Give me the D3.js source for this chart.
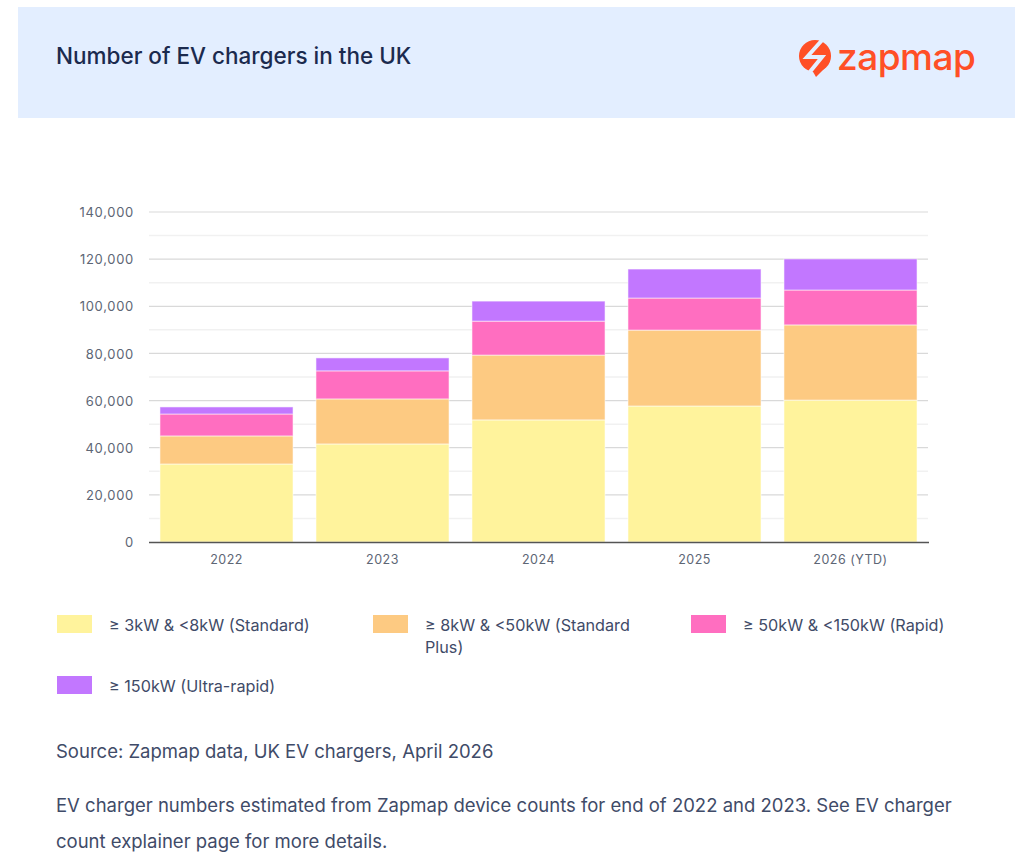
<!DOCTYPE html>
<html>
<head>
<meta charset="utf-8">
<script src="https://cdn.jsdelivr.net/npm/d3@7"></script>
<style>
    html, body { margin: 0; padding: 0; background: #fff; overflow: hidden; }
    svg { display: block; }
    .body-text { font-family: Inter, sans-serif; fill: #3f4b68; }
    .tick text { font-family: Inter, sans-serif; font-size: 13px; fill: #5d6675; }
</style>
</head>
<body>
<div id="chart"></div>
<script>
const years = ['2022', '2023', '2024', '2025', '2026 (YTD)'];
const standard = [33100, 41600, 51800, 57700, 60200];
const standardPlus = [11900, 19100, 27500, 32200, 31900];
const rapid = [9300, 11900, 14400, 13600, 14800];
const ultraRapid = [3000, 5500, 8500, 12300, 13200];
const seriesKeys = ['standard', 'standardPlus', 'rapid', 'ultraRapid'];
const seriesColors = ['#fff39c', '#fdca82', '#ff6ec0', '#c277ff'];
const majorTicks = [0, 20000, 40000, 60000, 80000, 100000, 120000, 140000];
const minorTicks = [10000, 30000, 50000, 70000, 90000, 110000, 130000];
const legendLabels = [
    ['≥ 3kW & <8kW (Standard)'],
    ['≥ 8kW & <50kW (Standard', 'Plus)'],
    ['≥ 50kW & <150kW (Rapid)'],
    ['≥ 150kW (Ultra-rapid)']
];

const rows = years.map((year, i) => ({
    year,
    standard: standard[i],
    standardPlus: standardPlus[i],
    rapid: rapid[i],
    ultraRapid: ultraRapid[i]
}));

const svg = d3.select('#chart').append('svg')
    .attr('width', 1015)
    .attr('height', 853);

// header band
svg.append('rect')
    .attr('x', 18).attr('y', 7)
    .attr('width', 997).attr('height', 111)
    .attr('fill', '#e3eeff');

svg.append('text')
    .attr('x', 56).attr('y', 64)
    .attr('font-family', 'Inter, sans-serif')
    .attr('font-size', 22.5)
    .attr('font-weight', 500)
    .attr('fill', '#1b2a4e')
    .text('Number of EV chargers in the UK');

// logo
const logo = svg.append('g').attr('transform', 'translate(815, 56)');
logo.append('circle')
    .attr('r', 16)
    .attr('fill', '#ff4f26');
logo.append('path')
    .attr('fill', '#ff4f26')
    .attr('d', 'M-3,14 L10,12 L1,21 Z');
logo.append('path')
    .attr('fill', 'none')
    .attr('stroke', '#e3eeff')
    .attr('stroke-width', 4)
    .attr('d', 'M9,-18 L-8,1 L7,1 L-6,17');
logo.append('text')
    .attr('x', 22).attr('y', 14)
    .attr('font-family', 'Inter, sans-serif')
    .attr('font-size', 37)
    .attr('font-weight', 500)
    .attr('letter-spacing', -0.5)
    .attr('fill', '#ff4f26')
    .text('zapmap');

const margin = {top: 212, left: 149};
const width = 779;
const height = 330;

const xScale = d3.scaleBand()
    .domain(years)
    .range([-0.5, 779.5])
    .paddingInner(0.147)
    .paddingOuter(0.0735);
const yScale = d3.scaleLinear()
    .domain([0, 140000])
    .range([height, 0]);

const chart = svg.append('g')
    .attr('transform', `translate(${margin.left}, ${margin.top})`);

chart.append('g').selectAll('line')
    .data(minorTicks)
    .join('line')
    .attr('x1', 0).attr('x2', width)
    .attr('y1', d => yScale(d)).attr('y2', d => yScale(d))
    .attr('stroke', '#f1f1f1')
    .attr('stroke-width', 1.5);

const yAxis = d3.axisLeft(yScale)
    .tickValues(majorTicks)
    .tickFormat(d3.format(','))
    .tickSize(0)
    .tickPadding(15);
const yAxisGroup = chart.append('g').call(yAxis);
yAxisGroup.select('.domain').remove();
yAxisGroup.selectAll('text')
    .attr('dy', '0.36em')
    .attr('letter-spacing', 0.7);

chart.append('g').selectAll('line')
    .data(majorTicks.slice(1))
    .join('line')
    .attr('x1', 0).attr('x2', width)
    .attr('y1', d => yScale(d)).attr('y2', d => yScale(d))
    .attr('stroke', '#d9d9d9')
    .attr('stroke-width', 1.2);

const stacked = d3.stack().keys(seriesKeys)(rows);
const colorScale = d3.scaleOrdinal().domain(seriesKeys).range(seriesColors);

chart.selectAll('.series')
    .data(stacked)
    .join('g')
    .attr('class', 'series')
    .attr('fill', d => colorScale(d.key))
    .selectAll('rect')
    .data(d => d)
    .join('rect')
    .attr('x', d => xScale(d.data.year))
    .attr('y', d => yScale(d[1]))
    .attr('width', xScale.bandwidth())
    .attr('height', d => yScale(d[0]) - yScale(d[1]))
    .attr('stroke', '#fff')
    .attr('stroke-opacity', 0.55)
    .attr('stroke-width', 1);

const xAxis = d3.axisBottom(xScale)
    .tickSize(0)
    .tickPadding(13);
const xAxisGroup = chart.append('g')
    .attr('transform', `translate(0, ${height})`)
    .call(xAxis);
xAxisGroup.select('.domain')
    .attr('stroke', '#555')
    .attr('stroke-width', 1.3);
xAxisGroup.selectAll('text')
    .attr('font-size', 12.5)
    .style('font-size', '12.5px')
    .attr('letter-spacing', 0.5);

// legend
const legendX = [57, 373, 691, 57];
const legendY = [615, 615, 615, 676];
const legend = svg.append('g');
const legendItems = legend.selectAll('g')
    .data(legendLabels)
    .join('g')
    .attr('transform', (d, i) => `translate(${legendX[i]}, ${legendY[i]})`);
legendItems.append('rect')
    .attr('width', 35)
    .attr('height', 18)
    .attr('fill', (d, i) => seriesColors[i]);
legendItems.each(function(lines) {
    d3.select(this).selectAll('text')
        .data(lines)
        .join('text')
        .attr('class', 'body-text')
        .attr('x', 52)
        .attr('y', (d, i) => 16 + i * 22)
        .attr('font-size', 16.2)
        .text(d => d);
});

// source notes
const notes = [
    {text: 'Source: Zapmap data, UK EV chargers, April 2026', y: 758},
    {text: 'EV charger numbers estimated from Zapmap device counts for end of 2022 and 2023. See EV charger', y: 812},
    {text: 'count explainer page for more details.', y: 848}
];
svg.append('g').selectAll('text')
    .data(notes)
    .join('text')
    .attr('class', 'body-text')
    .attr('x', 56)
    .attr('y', d => d.y)
    .attr('font-size', 18.5)
    .text(d => d.text);
</script>
</body>
</html>
